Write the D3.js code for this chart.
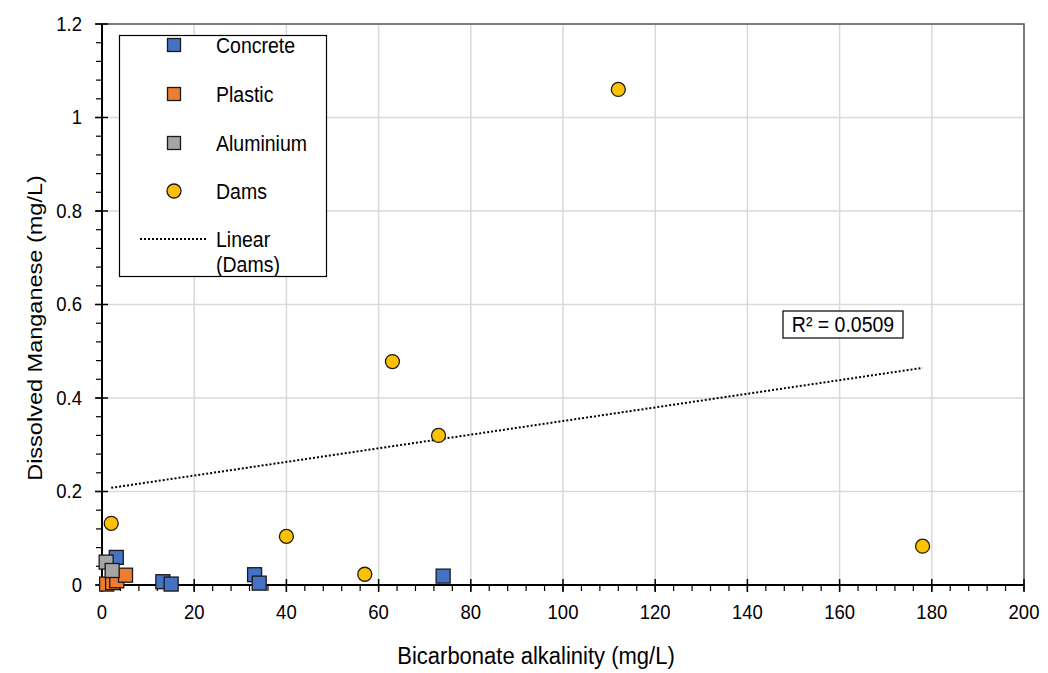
<!DOCTYPE html>
<html>
<head>
<meta charset="utf-8">
<script src="https://cdn.jsdelivr.net/npm/d3@7"></script>
<style>
  html, body { margin: 0; padding: 0; background: #fff; }
  svg { display: block; font-family: "Liberation Sans", Arial, sans-serif; }
</style>
</head>
<body>
<svg id="chart" width="1048" height="673"></svg>
<script>
// ---- data ----
const concreteX = [3.1, 13.2, 15.0, 33.1, 34.1, 74.0];
const concreteY = [0.059, 0.007, 0.002, 0.022, 0.004, 0.019];
const plasticX = [1.0, 2.3, 3.2, 5.1];
const plasticY = [0.002, 0.005, 0.009, 0.021];
const aluminiumX = [0.9, 2.2];
const aluminiumY = [0.049, 0.031];
const damsX = [2, 40, 57, 63, 73, 112, 178];
const damsY = [0.132, 0.104, 0.023, 0.478, 0.32, 1.06, 0.083];
const xTickValues = [0, 20, 40, 60, 80, 100, 120, 140, 160, 180, 200];
const xTickLabels = ["0", "20", "40", "60", "80", "100", "120", "140", "160", "180", "200"];
const yTickValues = [0, 0.2, 0.4, 0.6, 0.8, 1.0, 1.2];
const yTickLabels = ["0", "0.2", "0.4", "0.6", "0.8", "1", "1.2"];
const xMinor = d3.range(0, 201, 4);
const yMinor = d3.range(0, 31).map(i => i * 0.04);
const legendNames = ["Concrete", "Plastic", "Aluminium", "Dams"];
const r2Label = "R\u00B2 = 0.0509";

// ---- layout ----
const svg = d3.select("#chart");
const X0 = 102, X1 = 1024, Y0 = 585, Y1 = 24;
const x = d3.scaleLinear().domain([0, 200]).range([X0, X1]);
const y = d3.scaleLinear().domain([0, 1.2]).range([Y0, Y1]);

function stext(g, tx, ty, str, size, sy, anchor) {
  return g.append("text")
    .attr("transform", `translate(${tx},${ty}) scale(1,${sy})`)
    .attr("text-anchor", anchor || "start")
    .style("font-size", size + "px")
    .attr("fill", "#000")
    .text(str);
}

// gridlines
const grid = svg.append("g");
grid.selectAll("line.vx").data(xTickValues.slice(1)).join("line")
  .attr("x1", d => x(d)).attr("x2", d => x(d))
  .attr("y1", Y1).attr("y2", Y0)
  .attr("stroke", "#d9d9d9").attr("stroke-width", 1.5);
grid.selectAll("line.hy").data(yTickValues.slice(1)).join("line")
  .attr("y1", d => y(d)).attr("y2", d => y(d))
  .attr("x1", X0).attr("x2", X1)
  .attr("stroke", "#d9d9d9").attr("stroke-width", 1.5);

// border top/right
svg.append("path")
  .attr("d", `M${X0},${Y1}H${X1}V${Y0}`)
  .attr("fill", "none").attr("stroke", "#595959").attr("stroke-width", 1.5);

// axes lines
const ax = svg.append("g").attr("stroke", "#000");
ax.append("line").attr("x1", X0).attr("x2", X1).attr("y1", Y0).attr("y2", Y0).attr("stroke-width", 2);
ax.append("line").attr("x1", X0).attr("x2", X0).attr("y1", Y1).attr("y2", Y0).attr("stroke-width", 2);
// minor ticks
ax.selectAll("line.xm").data(xMinor).join("line")
  .attr("x1", d => x(d)).attr("x2", d => x(d)).attr("y1", Y0).attr("y2", Y0 + 6).attr("stroke-width", 1.2);
ax.selectAll("line.ym").data(yMinor).join("line")
  .attr("y1", d => y(d)).attr("y2", d => y(d)).attr("x1", X0 - 6).attr("x2", X0).attr("stroke-width", 1.2);
// major ticks (cross)
ax.selectAll("line.xM").data(xTickValues).join("line")
  .attr("x1", d => x(d)).attr("x2", d => x(d)).attr("y1", Y0 - 6).attr("y2", Y0 + 7).attr("stroke-width", 1.5);
ax.selectAll("line.yM").data(yTickValues).join("line")
  .attr("y1", d => y(d)).attr("y2", d => y(d)).attr("x1", X0 - 7).attr("x2", X0 + 6).attr("stroke-width", 1.5);

// tick labels
const tl = svg.append("g");
xTickValues.forEach((v, i) => stext(tl, x(v), 619, xTickLabels[i], 18.5, 1.11, "middle"));
yTickValues.forEach((v, i) => stext(tl, 82, y(v) + 6.7, yTickLabels[i], 18.5, 1.11, "end"));

// axis titles
stext(svg, 536, 664, "Bicarbonate alkalinity (mg/L)", 22, 1.05, "middle");
svg.append("text")
  .attr("transform", `translate(42,328) rotate(-90) scale(1.12,1)`)
  .attr("text-anchor", "middle")
  .style("font-size", "21px")
  .text("Dissolved Manganese (mg/L)");

// trendline (least squares on Dams)
const mx = d3.mean(damsX), my = d3.mean(damsY);
const sxy = d3.sum(damsX.map((v, i) => (v - mx) * (damsY[i] - my)));
const sxx = d3.sum(damsX.map(v => (v - mx) ** 2));
const slope = sxy / sxx, icpt = my - slope * mx;
const tx0 = d3.min(damsX), tx1 = d3.max(damsX);
svg.append("line")
  .attr("x1", x(tx0)).attr("y1", y(icpt + slope * tx0))
  .attr("x2", x(tx1)).attr("y2", y(icpt + slope * tx1))
  .attr("stroke", "#000").attr("stroke-width", 2).attr("stroke-dasharray", "2,2");

// markers
const S = 14;
function squares(xs, ys, fill) {
  svg.append("g").selectAll("rect").data(xs.map((v, i) => [v, ys[i]])).join("rect")
    .attr("x", d => x(d[0]) - S / 2).attr("y", d => y(d[1]) - S / 2)
    .attr("width", S).attr("height", S)
    .attr("fill", fill).attr("stroke", "#1a1a1a").attr("stroke-width", 1.3);
}
squares(concreteX, concreteY, "#4472C4");
squares(plasticX, plasticY, "#ED7D31");
squares(aluminiumX, aluminiumY, "#A5A5A5");
svg.append("g").selectAll("circle").data(damsX.map((v, i) => [v, damsY[i]])).join("circle")
  .attr("cx", d => x(d[0])).attr("cy", d => y(d[1])).attr("r", 7)
  .attr("fill", "#FFC000").attr("stroke", "#1a1a1a").attr("stroke-width", 1.3);

// R² label box
const rb = svg.append("g");
rb.append("rect").attr("x", 783).attr("y", 311).attr("width", 120).attr("height", 27)
  .attr("fill", "#fff").attr("stroke", "#000").attr("stroke-width", 1.2);
stext(rb, 843, 332, r2Label, 19.5, 1.1, "middle");

// legend
const lg = svg.append("g");
lg.append("rect").attr("x", 119.5).attr("y", 35.5).attr("width", 207).attr("height", 241)
  .attr("fill", "#fff").attr("stroke", "#000").attr("stroke-width", 1.2);
const legendY = [45, 94, 143, 191];
const legendFill = ["#4472C4", "#ED7D31", "#A5A5A5", "#FFC000"];
legendNames.forEach((n, i) => {
  if (i < 3) {
    lg.append("rect").attr("x", 174 - 6.5).attr("y", legendY[i] - 6.5).attr("width", 13).attr("height", 13)
      .attr("fill", legendFill[i]).attr("stroke", "#1a1a1a").attr("stroke-width", 1.3);
  } else {
    lg.append("circle").attr("cx", 174).attr("cy", legendY[i]).attr("r", 7)
      .attr("fill", legendFill[i]).attr("stroke", "#1a1a1a").attr("stroke-width", 1.3);
  }
  stext(lg, 216, legendY[i] + 7.5, n, 19.5, 1.1, "start");
});
lg.append("line").attr("x1", 140).attr("x2", 207).attr("y1", 239).attr("y2", 239)
  .attr("stroke", "#000").attr("stroke-width", 2).attr("stroke-dasharray", "2,2");
stext(lg, 216, 246.5, "Linear", 19.5, 1.1, "start");
stext(lg, 216, 272, "(Dams)", 19.5, 1.1, "start");
</script>
</body>
</html>
